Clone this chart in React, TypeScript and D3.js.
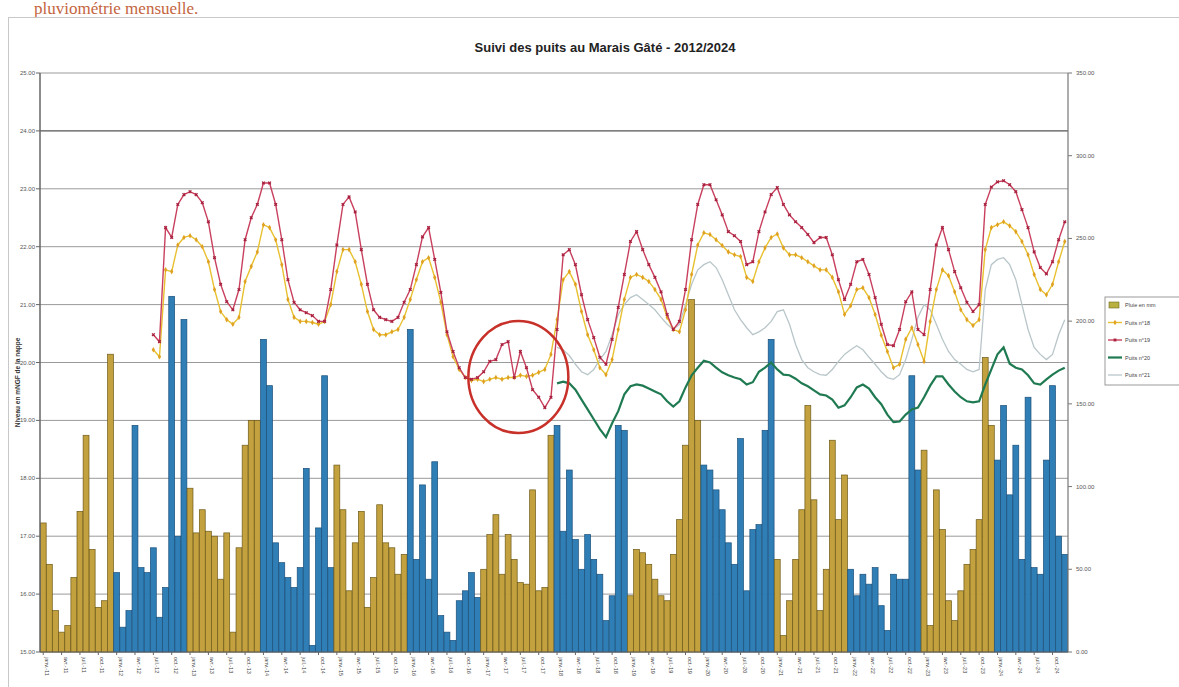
import React from "react";
import * as d3 from "d3";

// ---------- DATA ----------
const monthNames = ["janv.", "févr.", "mars", "avr.", "mai", "juin", "juil.", "août", "sept.", "oct.", "nov.", "déc."];
const years = [2011, 2012, 2013, 2014, 2015, 2016, 2017, 2018, 2019, 2020, 2021, 2022, 2023, 2024];

// monthly rainfall (mm), one array per year
const rain2011 = [78, 53, 25, 12, 16, 45, 85, 131, 62, 27, 31, 180];
const rain2012 = [48, 15, 25, 137, 51, 48, 63, 21, 39, 215, 70, 201];
const rain2013 = [99, 72, 86, 73, 70, 44, 72, 12, 63, 125, 140, 140];
const rain2014 = [189, 161, 66, 54, 45, 39, 51, 111, 4, 75, 167, 51];
const rain2015 = [113, 86, 37, 66, 85, 27, 45, 89, 66, 63, 47, 59];
const rain2016 = [195, 56, 101, 44, 115, 22, 12, 7, 31, 37, 48, 33];
const rain2017 = [50, 71, 83, 47, 71, 56, 42, 41, 98, 37, 39, 131];
const rain2018 = [137, 73, 110, 68, 50, 71, 56, 47, 19, 34, 137, 134];
const rain2019 = [34, 62, 60, 53, 44, 34, 31, 59, 80, 125, 213, 140];
const rain2020 = [113, 110, 98, 86, 66, 53, 129, 37, 74, 77, 134, 189];
const rain2021 = [56, 10, 31, 56, 86, 149, 92, 25, 50, 128, 80, 107];
const rain2022 = [50, 34, 47, 41, 51, 28, 13, 47, 44, 44, 167, 110];
const rain2023 = [122, 16, 98, 74, 31, 19, 37, 53, 62, 80, 178, 137];
const rain2024 = [116, 149, 95, 125, 56, 154, 51, 47, 116, 161, 70, 59];
const rainByYear = [rain2011, rain2012, rain2013, rain2014, rain2015, rain2016, rain2017, rain2018, rain2019, rain2020, rain2021, rain2022, rain2023, rain2024];

// well levels (m NGF), monthly
const puits18Start = 18; // juil. 2012
const puits18 = [20.22, 20.10, 21.60, 21.57, 22.03, 22.16, 22.19, 22.12, 22.00, 21.74, 21.26, 20.88, 20.74, 20.66, 20.78, 21.40, 21.66, 21.91,
  22.38, 22.33, 22.12, 21.69, 21.09, 20.78, 20.71, 20.71, 20.69, 20.66, 20.71, 21.00,
  21.57, 21.95, 21.95, 21.74, 21.35, 20.88, 20.57, 20.48, 20.48, 20.53, 20.57, 20.78,
  21.09, 21.43, 21.74, 21.81, 21.47, 21.04, 20.48, 20.10, 19.88, 19.74, 19.69, 19.71,
  19.67, 19.71, 19.74, 19.71, 19.74, 19.74, 19.78, 19.76, 19.78, 19.83, 19.88, 20.14,
  20.74, 21.43, 21.57, 21.35, 20.88, 20.48, 20.22, 19.91, 19.79, 20.05, 20.57, 21.09,
  21.47, 21.52, 21.47, 21.40, 21.26, 21.09, 20.78, 20.57, 20.53, 20.91, 21.52, 22.03,
  22.24, 22.21, 22.12, 22.02, 21.91, 21.86, 21.83, 21.47, 21.40, 21.74, 21.98, 22.16,
  22.22, 21.98, 21.86, 21.86, 21.81, 21.74, 21.67, 21.60, 21.60, 21.47, 21.22, 20.83,
  20.98, 21.26, 21.29, 21.12, 20.83, 20.47, 20.19, 19.91, 19.97, 20.40, 20.60, 20.31,
  20.02, 20.71, 21.26, 21.60, 21.50, 21.22, 20.91, 20.74, 20.64, 20.74, 21.95, 22.33,
  22.38, 22.43, 22.36, 22.26, 22.09, 21.86, 21.52, 21.26, 21.17, 21.35, 21.74, 22.09];

const puits19Start = 18;
const puits19 = [20.48, 20.36, 22.33, 22.16, 22.73, 22.90, 22.95, 22.90, 22.76, 22.43, 21.81, 21.35, 21.05, 20.91, 21.26, 22.12, 22.50, 22.73,
  23.10, 23.10, 22.73, 22.12, 21.43, 21.04, 20.91, 20.86, 20.81, 20.71, 20.71, 21.26,
  22.03, 22.73, 22.86, 22.60, 21.95, 21.35, 20.91, 20.78, 20.74, 20.71, 20.78, 21.04,
  21.26, 21.69, 22.17, 22.33, 21.78, 21.21, 20.53, 20.19, 19.91, 19.74, 19.71, 19.74,
  19.84, 20.02, 20.05, 20.31, 20.36, 19.74, 20.19, 19.91, 19.53, 19.40, 19.22, 19.40,
  20.57, 21.86, 21.95, 21.69, 21.17, 20.74, 20.43, 20.09, 19.97, 20.40, 20.95, 21.52,
  22.09, 22.26, 21.95, 21.69, 21.47, 21.22, 20.83, 20.57, 20.71, 21.26, 22.12, 22.73,
  23.07, 23.07, 22.81, 22.55, 22.26, 22.19, 22.09, 21.69, 21.74, 22.26, 22.60, 22.90,
  23.02, 22.73, 22.55, 22.43, 22.33, 22.21, 22.07, 22.16, 22.16, 21.86, 21.43, 21.09,
  21.35, 21.74, 21.78, 21.52, 21.12, 20.66, 20.31, 20.29, 20.57, 21.05, 21.22, 20.57,
  20.48, 21.26, 22.03, 22.33, 21.95, 21.57, 21.29, 21.04, 20.88, 21.00, 22.73, 23.03,
  23.12, 23.14, 23.07, 22.95, 22.64, 22.33, 21.91, 21.64, 21.53, 21.74, 22.12, 22.43];

const puits20Start = 84; // janv. 2018
const puits20 = [19.64, 19.67, 19.64, 19.53, 19.36, 19.19, 19.02, 18.85, 18.71, 18.95, 19.16, 19.45,
  19.59, 19.62, 19.60, 19.55, 19.50, 19.45, 19.33, 19.24, 19.33, 19.57, 19.78, 19.91,
  20.03, 20.00, 19.91, 19.83, 19.78, 19.74, 19.71, 19.62, 19.66, 19.84, 19.91, 20.00,
  19.88, 19.79, 19.78, 19.72, 19.64, 19.59, 19.52, 19.45, 19.43, 19.36, 19.22, 19.26,
  19.40, 19.57, 19.62, 19.55, 19.40, 19.28, 19.10, 18.97, 18.98, 19.10, 19.19, 19.22,
  19.40, 19.60, 19.76, 19.76, 19.62, 19.50, 19.40, 19.33, 19.31, 19.33, 19.62, 19.88,
  20.14, 20.26, 19.98, 19.91, 19.88, 19.78, 19.64, 19.62, 19.71, 19.79, 19.86, 19.91];

const puits21Start = 84;
const puits21 = [20.26, 20.22, 20.12, 19.97, 19.84, 19.79, 19.88, 20.05, 20.19, 20.48, 20.83, 21.00,
  21.12, 21.17, 21.09, 21.00, 20.91, 20.78, 20.66, 20.57, 20.66, 21.00, 21.35, 21.60,
  21.69, 21.74, 21.64, 21.43, 21.17, 20.91, 20.74, 20.60, 20.48, 20.53, 20.60, 20.71,
  20.88, 20.91, 20.66, 20.31, 20.05, 19.91, 19.84, 19.79, 19.78, 19.88, 20.02, 20.14,
  20.22, 20.29, 20.22, 20.09, 19.97, 19.84, 19.74, 19.71, 19.79, 20.05, 20.40, 20.78,
  21.00, 20.91, 20.66, 20.40, 20.19, 20.05, 19.97, 19.88, 19.84, 19.88, 21.26, 21.69,
  21.78, 21.81, 21.69, 21.43, 21.00, 20.57, 20.26, 20.14, 20.05, 20.14, 20.48, 20.74];

const leftTicks = [15, 16, 17, 18, 19, 20, 21, 22, 23, 24, 25];
const rightTicks = [0, 50, 100, 150, 200, 250, 300, 350];
const legendLabels = ["Pluie en mm", "Puits n°18", "Puits n°19", "Puits n°20", "Puits n°21"];

const title = "Suivi des puits au Marais Gâté - 2012/2024";
const headerText = "pluviométrie mensuelle.";
const leftAxisTitle = "Niveau en mNGF de la nappe";

// ---------- CHART ----------
const W = 1179, H = 687;
const PL = 40, PR = 1068, PT = 73, PB = 652;

type Pt = { i: number; v: number };

export default function App() {
  const nMonths = years.length * 12;
  const idx = d3.range(nMonths);
  const labelOf = (i: number) => {
    const y = years[Math.floor(i / 12)];
    return `${monthNames[i % 12]}-${String(y).slice(2)}`;
  };
  const rain: { i: number; v: number; yi: number }[] = [];
  rainByYear.forEach((arr, yi) => arr.forEach((v, m) => rain.push({ i: yi * 12 + m, v, yi })));

  const x = d3.scaleBand<number>().domain(idx).range([PL, PR]).paddingInner(0.04).paddingOuter(0.05);
  const xc = (i: number) => (x(i) as number) + x.bandwidth() / 2;
  const yL = d3.scaleLinear().domain([15, 25]).range([PB, PT]);
  const yR = d3.scaleLinear().domain([0, 350]).range([PB, PT]);

  const toPts = (arr: number[], start: number): Pt[] => arr.map((v, k) => ({ i: start + k, v }));
  const line = d3.line<Pt>().x((d) => xc(d.i)).y((d) => yL(d.v));

  const p18 = toPts(puits18, puits18Start);
  const p19 = toPts(puits19, puits19Start);
  const p20 = toPts(puits20, puits20Start);
  const p21 = toPts(puits21, puits21Start);

  const gold = "#c2a13e", goldEdge = "#6f5a18";
  const blue = "#2f7fb6", blueEdge = "#1a4f7a";
  const redC = "#c8405e", yellowC = "#e8c030", greenC = "#1f7a52", grayC = "#b9c6c9";

  const diamond = d3.symbol().type(d3.symbolDiamond).size(9)() as string;
  const cross = d3.symbol().type(d3.symbolCross).size(8)() as string;

  return (
    <svg width={W} height={H} style={{ display: "block", position: "absolute", left: 0, top: 0, background: "#fff" }}
      fontFamily="Liberation Sans, Arial, sans-serif">
      <rect x={0} y={0} width={W} height={H} fill="#fff" />
      {/* scanned page header */}
      <text x={34} y={14} fontFamily="Liberation Serif, Times New Roman, serif" fontSize={17} fill="#c4643e">{headerText}</text>
      {/* chart frame */}
      <rect x={8.5} y={17.5} width={W} height={H} fill="none" stroke="#c8c8c8" strokeWidth={1} />
      <text x={605} y={52} textAnchor="middle" fontWeight="bold" fontSize={13} fill="#222">{title}</text>

      {/* gridlines */}
      {leftTicks.map((t) => (
        <line key={"g" + t} x1={PL} x2={PR} y1={yL(t)} y2={yL(t)} stroke={t === 24 ? "#555" : "#9a9a9a"} strokeWidth={t === 24 ? 1.4 : 1} />
      ))}

      {/* rainfall bars */}
      {rain.map((d) => (
        <rect key={"b" + d.i} x={x(d.i)} y={yR(d.v)} width={x.bandwidth()} height={PB - yR(d.v)}
          fill={d.yi % 2 === 0 ? gold : blue} stroke={d.yi % 2 === 0 ? goldEdge : blueEdge} strokeWidth={0.7} />
      ))}

      {/* well lines */}
      <path d={line(p21) as string} fill="none" stroke={grayC} strokeWidth={1.3} />
      <path d={line(p20) as string} fill="none" stroke={greenC} strokeWidth={2.2} />
      <path d={line(p18) as string} fill="none" stroke={yellowC} strokeWidth={1.4} />
      {p18.map((d) => (
        <path key={"m18" + d.i} d={diamond} transform={`translate(${xc(d.i)},${yL(d.v)})`} fill="#e0a020" />
      ))}
      <path d={line(p19) as string} fill="none" stroke={redC} strokeWidth={1.4} />
      {p19.map((d) => (
        <path key={"m19" + d.i} d={cross} transform={`translate(${xc(d.i)},${yL(d.v)}) rotate(45)`} fill="#a8203e" />
      ))}

      {/* annotation circle */}
      <ellipse cx={xc(78) - 2} cy={yL(19.75)} rx={50} ry={56} fill="none" stroke="#c8302a" strokeWidth={2.5} />

      {/* axes */}
      <line x1={PL} x2={PL} y1={PT} y2={PB} stroke="#666" strokeWidth={1.5} />
      <line x1={PR} x2={PR} y1={PT} y2={PB} stroke="#777" strokeWidth={1.2} />
      <line x1={PL} x2={PR} y1={PB} y2={PB} stroke="#666" strokeWidth={1.2} />
      {leftTicks.map((t) => (
        <g key={"lt" + t}>
          <line x1={PL - 4} x2={PL} y1={yL(t)} y2={yL(t)} stroke="#666" />
          <text x={PL - 5} y={yL(t) + 2} textAnchor="end" fontSize={6} fill="#555">{t.toFixed(2)}</text>
        </g>
      ))}
      {rightTicks.map((t) => (
        <g key={"rt" + t}>
          <line x1={PR} x2={PR + 4} y1={yR(t)} y2={yR(t)} stroke="#777" />
          <text x={PR + 8} y={yR(t) + 2} fontSize={6} fill="#555">{t.toFixed(2)}</text>
        </g>
      ))}
      <text transform={`translate(20,${(PT + PB) / 2 + 20}) rotate(-90)`} textAnchor="middle" fontSize={6.5} fontWeight="bold" fill="#333">{leftAxisTitle}</text>
      {idx.filter((i) => i % 3 === 0).map((i) => (
        <g key={"xl" + i}>
          <line x1={xc(i)} x2={xc(i)} y1={PB} y2={PB + 3} stroke="#666" />
          <text transform={`translate(${xc(i) + 2},${PB + 5}) rotate(90)`} fontSize={5.5} fill="#444">{labelOf(i)}</text>
        </g>
      ))}

      {/* legend */}
      <g>
        <rect x={1105} y={297} width={80} height={88} fill="#fff" stroke="#999" />
        {legendLabels.map((lab, k) => {
          const ly = 305 + k * 17.5;
          return (
            <g key={"lg" + k}>
              {k === 0 && <rect x={1109} y={ly - 3} width={10} height={6} fill="#b8b040" stroke="#6e6a20" strokeWidth={0.6} />}
              {k === 1 && <g><line x1={1108} x2={1122} y1={ly} y2={ly} stroke={yellowC} strokeWidth={1.4} /><path d={diamond} transform={`translate(1115,${ly})`} fill="#e0a020" /></g>}
              {k === 2 && <g><line x1={1108} x2={1122} y1={ly} y2={ly} stroke={redC} strokeWidth={1.4} /><path d={cross} transform={`translate(1115,${ly}) rotate(45)`} fill="#a8203e" /></g>}
              {k === 3 && <line x1={1108} x2={1122} y1={ly} y2={ly} stroke={greenC} strokeWidth={2.2} />}
              {k === 4 && <line x1={1108} x2={1122} y1={ly} y2={ly} stroke={grayC} strokeWidth={1.3} />}
              <text x={1125} y={ly + 2} fontSize={5.5} fill="#444">{lab}</text>
            </g>
          );
        })}
      </g>
    </svg>
  );
}
